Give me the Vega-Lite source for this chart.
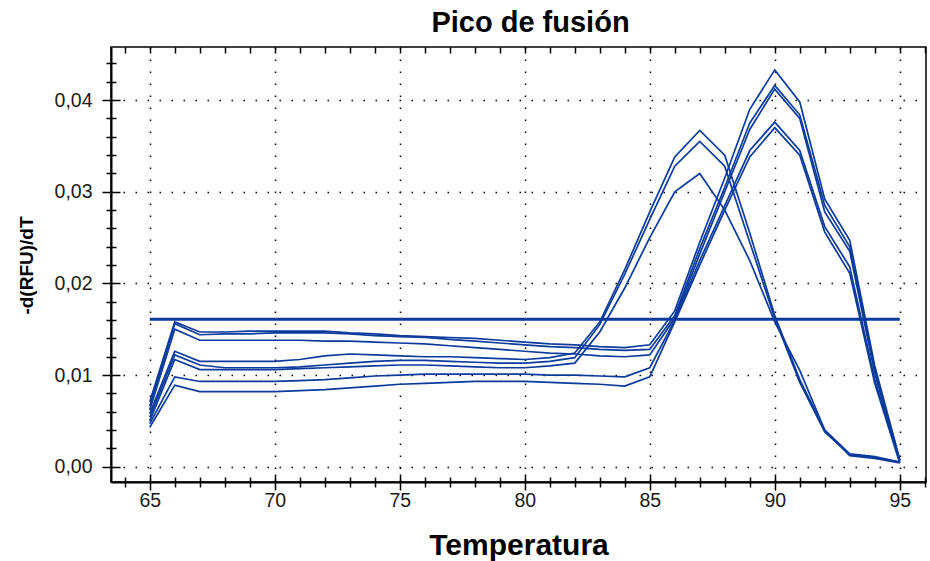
{
  "$schema": "https://vega.github.io/schema/vega-lite/v6.json",
  "width": 815,
  "height": 435,
  "autosize": "none",
  "padding": {"left": 111, "top": 47, "right": 4, "bottom": 79},
  "background": "white",
  "title": {"text": "Pico de fusión", "fontSize": 29, "font": "Liberation Sans", "fontWeight": "bold", "color": "black", "offset": 8, "dx": 12, "anchor": "middle"},
  "config": {
    "view": {"stroke": "black", "strokeWidth": 1.5},
    "axis": {"labelFont": "Liberation Sans", "labelFontSize": 19.5, "labelColor": "#1a1a1a", "tickColor": "black", "domainColor": "black", "titleFont": "Liberation Sans", "titleColor": "black", "titleFontWeight": "bold"}
  },
  "datasets": {
    "curvas": [
      {"t": 65, "A1": 0.0058, "A2": 0.0054, "A3": 0.0050, "B1": 0.0071, "B2": 0.0066, "B3": 0.0062, "B4": 0.0047, "B5": 0.0043},
      {"t": 66, "A1": 0.0126, "A2": 0.0122, "A3": 0.0117, "B1": 0.0158, "B2": 0.0156, "B3": 0.0150, "B4": 0.0098, "B5": 0.0089},
      {"t": 67, "A1": 0.0115, "A2": 0.0111, "A3": 0.0106, "B1": 0.0147, "B2": 0.0144, "B3": 0.0138, "B4": 0.0093, "B5": 0.0082},
      {"t": 68, "A1": 0.0115, "A2": 0.0108, "A3": 0.0106, "B1": 0.0147, "B2": 0.0145, "B3": 0.0138, "B4": 0.0093, "B5": 0.0082},
      {"t": 69, "A1": 0.0115, "A2": 0.0108, "A3": 0.0106, "B1": 0.0148, "B2": 0.0145, "B3": 0.0138, "B4": 0.0093, "B5": 0.0082},
      {"t": 70, "A1": 0.0115, "A2": 0.0108, "A3": 0.0106, "B1": 0.0148, "B2": 0.0146, "B3": 0.0138, "B4": 0.0093, "B5": 0.0082},
      {"t": 71, "A1": 0.0117, "A2": 0.0109, "A3": 0.0107, "B1": 0.0148, "B2": 0.0146, "B3": 0.0138, "B4": 0.0094, "B5": 0.0083},
      {"t": 72, "A1": 0.0121, "A2": 0.0111, "A3": 0.0108, "B1": 0.0148, "B2": 0.0146, "B3": 0.0137, "B4": 0.0095, "B5": 0.0084},
      {"t": 73, "A1": 0.0123, "A2": 0.0113, "A3": 0.0109, "B1": 0.0146, "B2": 0.0145, "B3": 0.0137, "B4": 0.0097, "B5": 0.0086},
      {"t": 74, "A1": 0.0122, "A2": 0.0115, "A3": 0.0110, "B1": 0.0145, "B2": 0.0143, "B3": 0.0136, "B4": 0.0099, "B5": 0.0088},
      {"t": 75, "A1": 0.0121, "A2": 0.0116, "A3": 0.0111, "B1": 0.0143, "B2": 0.0142, "B3": 0.0135, "B4": 0.0100, "B5": 0.0090},
      {"t": 76, "A1": 0.0120, "A2": 0.0116, "A3": 0.0111, "B1": 0.0142, "B2": 0.0141, "B3": 0.0134, "B4": 0.0101, "B5": 0.0091},
      {"t": 77, "A1": 0.0120, "A2": 0.0115, "A3": 0.0110, "B1": 0.0141, "B2": 0.0139, "B3": 0.0132, "B4": 0.0101, "B5": 0.0092},
      {"t": 78, "A1": 0.0119, "A2": 0.0114, "A3": 0.0109, "B1": 0.0140, "B2": 0.0137, "B3": 0.0130, "B4": 0.0101, "B5": 0.0093},
      {"t": 79, "A1": 0.0118, "A2": 0.0113, "A3": 0.0108, "B1": 0.0138, "B2": 0.0135, "B3": 0.0128, "B4": 0.0101, "B5": 0.0093},
      {"t": 80, "A1": 0.0117, "A2": 0.0113, "A3": 0.0108, "B1": 0.0136, "B2": 0.0133, "B3": 0.0126, "B4": 0.0101, "B5": 0.0093},
      {"t": 81, "A1": 0.0119, "A2": 0.0115, "A3": 0.0110, "B1": 0.0134, "B2": 0.0131, "B3": 0.0124, "B4": 0.0100, "B5": 0.0092},
      {"t": 82, "A1": 0.0124, "A2": 0.0119, "A3": 0.0113, "B1": 0.0133, "B2": 0.0130, "B3": 0.0123, "B4": 0.0100, "B5": 0.0091},
      {"t": 83, "A1": 0.0158, "A2": 0.0155, "A3": 0.0147, "B1": 0.0131, "B2": 0.0128, "B3": 0.0121, "B4": 0.0099, "B5": 0.0090},
      {"t": 84, "A1": 0.0215, "A2": 0.0210, "A3": 0.0195, "B1": 0.0130, "B2": 0.0127, "B3": 0.0120, "B4": 0.0098, "B5": 0.0088},
      {"t": 85, "A1": 0.0278, "A2": 0.0270, "A3": 0.0250, "B1": 0.0133, "B2": 0.0128, "B3": 0.0122, "B4": 0.0108, "B5": 0.0098},
      {"t": 86, "A1": 0.0338, "A2": 0.0328, "A3": 0.0300, "B1": 0.0170, "B2": 0.0165, "B3": 0.0162, "B4": 0.0160, "B5": 0.0158},
      {"t": 87, "A1": 0.0367, "A2": 0.0355, "A3": 0.0320, "B1": 0.0245, "B2": 0.0238, "B3": 0.0232, "B4": 0.0225, "B5": 0.0220},
      {"t": 88, "A1": 0.0340, "A2": 0.0328, "A3": 0.0280, "B1": 0.0315, "B2": 0.0305, "B3": 0.0300, "B4": 0.0285, "B5": 0.0280},
      {"t": 89, "A1": 0.0255, "A2": 0.0245, "A3": 0.0225, "B1": 0.0390, "B2": 0.0375, "B3": 0.0368, "B4": 0.0345, "B5": 0.0338},
      {"t": 90, "A1": 0.0165, "A2": 0.0162, "A3": 0.0158, "B1": 0.0433, "B2": 0.0416, "B3": 0.0412, "B4": 0.0376, "B5": 0.0370},
      {"t": 91, "A1": 0.0095, "A2": 0.0092, "A3": 0.0105, "B1": 0.0398, "B2": 0.0384, "B3": 0.0380, "B4": 0.0345, "B5": 0.0340},
      {"t": 92, "A1": 0.0040, "A2": 0.0038, "A3": 0.0040, "B1": 0.0292, "B2": 0.0285, "B3": 0.0278, "B4": 0.0262, "B5": 0.0256},
      {"t": 93, "A1": 0.0014, "A2": 0.0013, "A3": 0.0012, "B1": 0.0247, "B2": 0.0240, "B3": 0.0235, "B4": 0.0218, "B5": 0.0211},
      {"t": 94, "A1": 0.0011, "A2": 0.0010, "A3": 0.0009, "B1": 0.0110, "B2": 0.0106, "B3": 0.0102, "B4": 0.0095, "B5": 0.0091},
      {"t": 95, "A1": 0.0005, "A2": 0.0005, "A3": 0.0004, "B1": 0.0008, "B2": 0.0007, "B3": 0.0006, "B4": 0.0005, "B5": 0.0004}
    ],
    "umbral": [
      {"t": 65, "v": 0.0161},
      {"t": 95, "v": 0.0161}
    ]
  },
  "layer": [
    {
      "data": {"name": "curvas"},
      "transform": [{"fold": ["A1", "A2", "A3", "B1", "B2", "B3", "B4", "B5"], "as": ["serie", "v"]}],
      "mark": {"type": "line", "color": "#0a3a9c", "strokeWidth": 1.7, "clip": true},
      "encoding": {
        "x": {"field": "t", "type": "quantitative", "scale": {"domain": [63.45, 96.05], "nice": false, "zero": false},
          "axis": {"orient": "bottom", "title": "Temperatura", "titleFontSize": 30, "titlePadding": 21,
            "values": [64,65,66,67,68,69,70,71,72,73,74,75,76,77,78,79,80,81,82,83,84,85,86,87,88,89,90,91,92,93,94,95,96],
            "labelExpr": "datum.value % 5 === 0 ? datum.label : ''",
            "tickSize": {"condition": {"test": "datum.value % 5 === 0", "value": 8}, "value": 5},
            "labelPadding": 1, "domainWidth": 2, "tickWidth": 1.5,
            "grid": true, "gridColor": "black", "gridDash": [1.5, 10.5], "gridWidth": 1.5,
            "gridOpacity": {"condition": {"test": "datum.value % 5 === 0", "value": 1}, "value": 0}}},
        "y": {"field": "v", "type": "quantitative", "scale": {"domain": [-0.00167, 0.0458], "nice": false, "zero": false},
          "axis": {"orient": "left", "title": "-d(RFU)/dT", "titleFontSize": 19, "titleAngle": 270, "titleX": -85, "titleY": 218, "titleAlign": "center", "titleBaseline": "middle",
            "values": [0,0.002,0.004,0.006,0.008,0.01,0.012,0.014,0.016,0.018,0.02,0.022,0.024,0.026,0.028,0.03,0.032,0.034,0.036,0.038,0.04,0.042,0.044],
            "labelExpr": "abs(datum.value*100 - round(datum.value*100)) < 0.001 ? replace(format(datum.value, '.2f'), '.', ',') : ''",
            "tickSize": {"condition": {"test": "abs(datum.value*100 - round(datum.value*100)) < 0.001", "value": 9}, "value": 5},
            "labelPadding": 10, "domainWidth": 2, "tickWidth": 1.5,
            "grid": true, "gridColor": "black", "gridDash": [1.5, 10.5], "gridWidth": 1.5,
            "gridOpacity": {"condition": {"test": "abs(datum.value*100 - round(datum.value*100)) < 0.001", "value": 1}, "value": 0}}},
        "detail": {"field": "serie"}
      }
    },
    {
      "data": {"name": "umbral"},
      "mark": {"type": "line", "color": "#0a3a9c", "strokeWidth": 3},
      "encoding": {
        "x": {"field": "t", "type": "quantitative",
          "axis": {"orient": "bottom", "title": null, "labels": false, "domain": false, "grid": false,
            "values": [64,65,66,67,68,69,70,71,72,73,74,75,76,77,78,79,80,81,82,83,84,85,86,87,88,89,90,91,92,93,94,95,96],
            "tickSize": {"condition": {"test": "datum.value % 5 === 0", "value": -8}, "value": -5}, "tickWidth": 1.5}},
        "y": {"field": "v", "type": "quantitative",
          "axis": {"orient": "left", "title": null, "labels": false, "domain": false, "grid": false,
            "values": [0,0.002,0.004,0.006,0.008,0.01,0.012,0.014,0.016,0.018,0.02,0.022,0.024,0.026,0.028,0.03,0.032,0.034,0.036,0.038,0.04,0.042,0.044],
            "tickSize": {"condition": {"test": "abs(datum.value*100 - round(datum.value*100)) < 0.001", "value": -9}, "value": -5}, "tickWidth": 1.5}}
      }
    },
    {
      "data": {"name": "umbral"},
      "mark": {"type": "line", "opacity": 0},
      "encoding": {
        "x": {"field": "t", "type": "quantitative",
          "axis": {"orient": "top", "title": null, "labels": false, "domain": false, "grid": false,
            "values": [64,65,66,67,68,69,70,71,72,73,74,75,76,77,78,79,80,81,82,83,84,85,86,87,88,89,90,91,92,93,94,95,96],
            "tickSize": -6, "tickWidth": 1.5}},
        "y": {"field": "v", "type": "quantitative", "axis": null}
      }
    }
  ],
  "resolve": {"axis": {"x": "independent", "y": "independent"}}
}
